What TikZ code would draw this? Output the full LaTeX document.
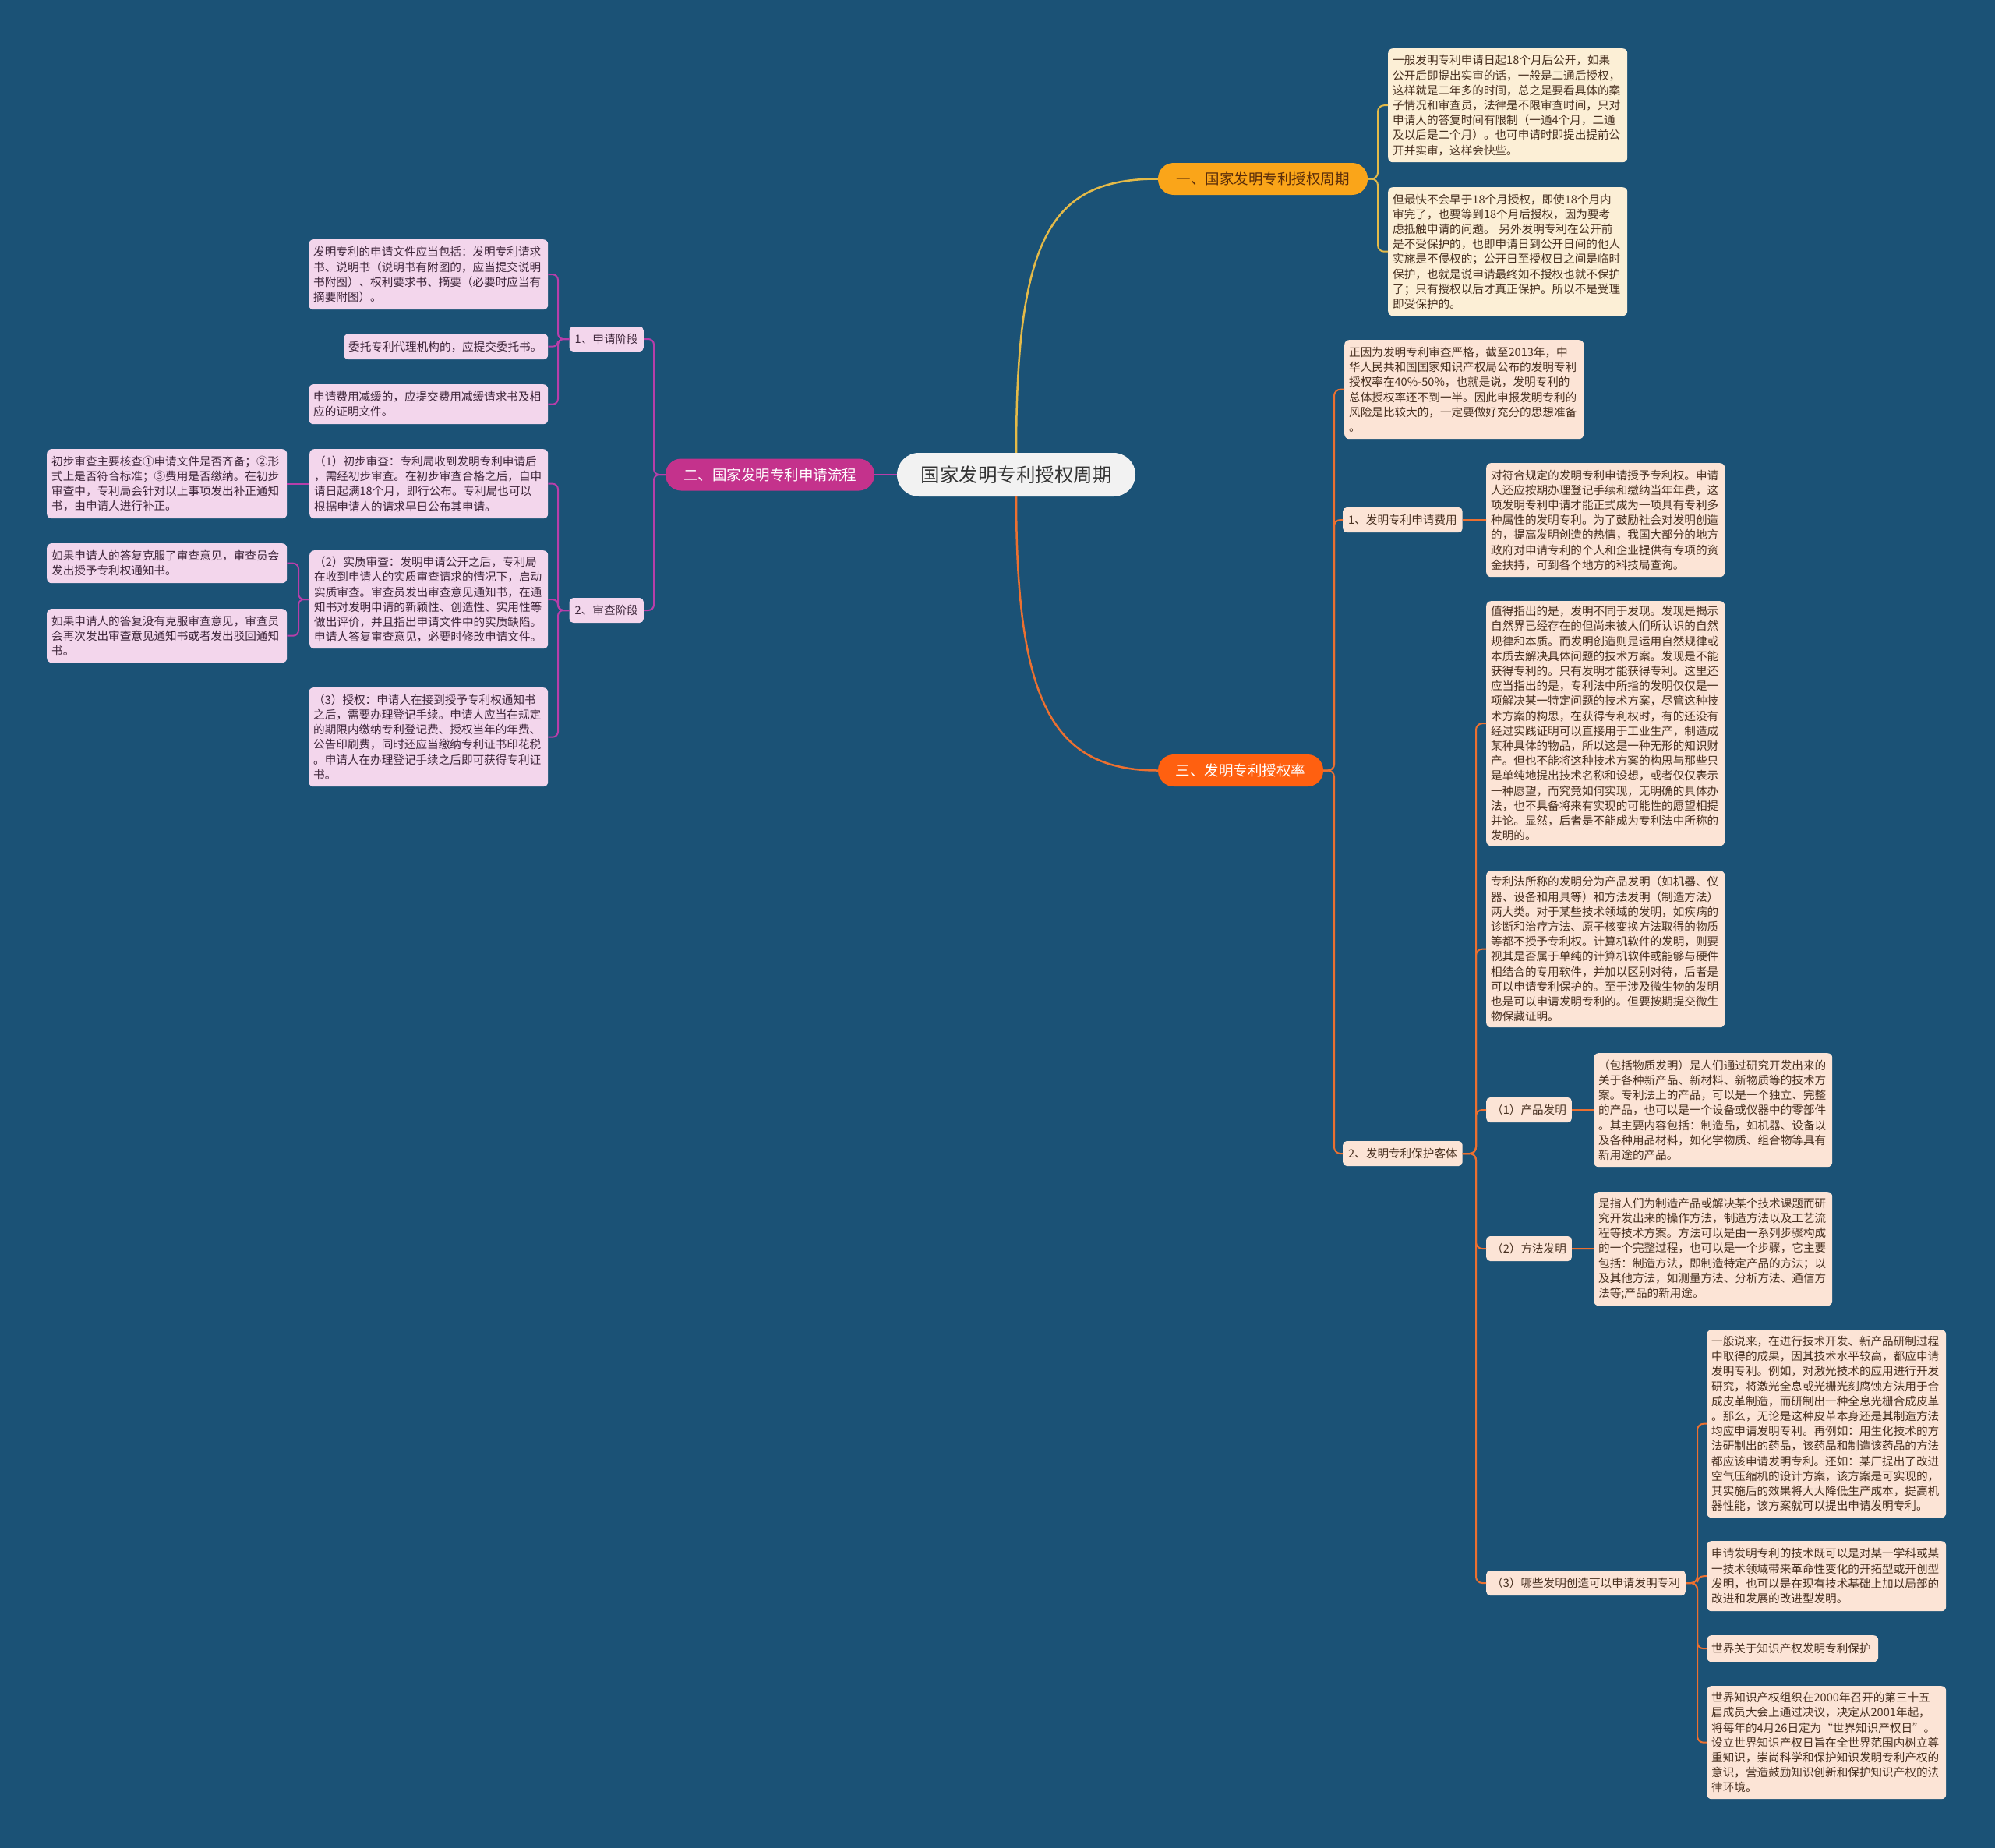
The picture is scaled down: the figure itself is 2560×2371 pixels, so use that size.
\documentclass[tikz,border=0pt]{standalone}
\usepackage{fontspec}
\setmainfont{Noto Sans CJK SC}
\definecolor{bg}{RGB}{27,82,118}
\definecolor{ycream}{RGB}{252,239,214}
\definecolor{opeach}{RGB}{252,228,214}
\definecolor{ppink}{RGB}{243,214,236}
\definecolor{btext}{RGB}{72,48,32}
\definecolor{ptext}{RGB}{62,38,58}
\definecolor{yfill}{RGB}{250,165,25}
\definecolor{ytx}{RGB}{90,45,10}
\definecolor{ofill}{RGB}{255,96,16}
\definecolor{pfill}{RGB}{196,50,140}
\definecolor{yline}{RGB}{228,186,72}
\definecolor{oline}{RGB}{236,112,48}
\definecolor{pline}{RGB}{184,62,170}
\definecolor{rootfill}{RGB}{242,242,242}
\newcommand\boxfont{\fontsize{14.6pt}{19.2pt}\selectfont}
\newcommand\pbx[7]{%
  \pgfmathsetmacro\pbxw{#5-#3-12}%
  \pgfmathsetmacro\pbxh{#6-#4}%
  \node[#1, text width=\pbxw pt, minimum height=\pbxh pt] (#2) at (#3,#4) {#7};}
\begin{document}
\begin{tikzpicture}[x=1pt,y=-1pt,
  boxbase/.style={anchor=north west, inner xsep=6pt, inner ysep=0pt, rounded corners=6pt, align=left, font=\boxfont},
  yb/.style={boxbase, fill=ycream, text=btext},
  ob/.style={boxbase, fill=opeach, text=btext},
  pb/.style={boxbase, fill=ppink, text=ptext},
  lab/.style={inner xsep=7pt, inner ysep=0pt, minimum height=32pt, rounded corners=5pt, font=\boxfont},
  olab/.style={lab, fill=opeach, text=btext, anchor=west},
  plab/.style={lab, fill=ppink, text=ptext, anchor=east},
  brn/.style={rounded corners=20pt, minimum height=41pt, inner sep=0pt, font=\fontsize{18.5pt}{22pt}\selectfont},
  rootn/.style={fill=rootfill, text=black!80, rounded corners=28pt, minimum width=306pt, minimum height=56pt, inner sep=0pt, font=\fontsize{24.5pt}{28pt}\selectfont},
  ye/.style={draw=yline, line width=2pt, rounded corners=8pt},
  oe/.style={draw=oline, line width=2pt, rounded corners=8pt},
  pe/.style={draw=pline, line width=2pt, rounded corners=7pt},
]
\fill[bg] (0,0) rectangle (2560,2371);

% root and main branches
\node[rootn] (root) at (1304,609) {国家发明专利授权周期};
\node[brn, fill=yfill, text=ytx, minimum width=269pt] (b1) at (1620.5,229.5) {一、国家发明专利授权周期};
\node[brn, fill=ofill, text=white, minimum width=212pt] (b3) at (1592,988.5) {三、发明专利授权率};
\node[brn, fill=pfill, text=white, minimum width=268pt] (b2) at (988,609) {二、国家发明专利申请流程};

% branch one boxes
\pbx{yb}{A1}{1781}{62}{2088}{208}{一般发明专利申请日起18个月后公开，如果\\公开后即提出实审的话，一般是二通后授权，\\这样就是二年多的时间，总之是要看具体的案\\子情况和审查员，法律是不限审查时间，只对\\申请人的答复时间有限制（一通4个月，二通\\及以后是二个月）。也可申请时即提出提前公\\开并实审，这样会快些。}
\pbx{yb}{A2}{1781}{240}{2088}{405}{但最快不会早于18个月授权，即使18个月内\\审完了，也要等到18个月后授权，因为要考\\虑抵触申请的问题。~另外发明专利在公开前\\是不受保护的，也即申请日到公开日间的他人\\实施是不侵权的；公开日至授权日之间是临时\\保护，也就是说申请最终如不授权也就不保护\\了；只有授权以后才真正保护。所以不是受理\\即受保护的。}

% branch three
\pbx{ob}{C0}{1725}{436}{2032}{563}{正因为发明专利审查严格，截至2013年，中\\华人民共和国国家知识产权局公布的发明专利\\授权率在40\%-50\%，也就是说，发明专利的\\总体授权率还不到一半。因此申报发明专利的\\风险是比较大的，一定要做好充分的思想准备\\。}
\node[olab] (lab11) at (1723,667) {1、发明专利申请费用};
\node[olab] (lab12) at (1723,1480) {2、发明专利保护客体};
\pbx{ob}{C1}{1907}{594}{2213}{740}{对符合规定的发明专利申请授予专利权。申请\\人还应按期办理登记手续和缴纳当年年费，这\\项发明专利申请才能正式成为一项具有专利多\\种属性的发明专利。为了鼓励社会对发明创造\\的，提高发明创造的热情，我国大部分的地方\\政府对申请专利的个人和企业提供有专项的资\\金扶持，可到各个地方的科技局查询。}
\pbx{ob}{C2}{1907}{771}{2213}{1085}{值得指出的是，发明不同于发现。发现是揭示\\自然界已经存在的但尚未被人们所认识的自然\\规律和本质。而发明创造则是运用自然规律或\\本质去解决具体问题的技术方案。发现是不能\\获得专利的。只有发明才能获得专利。这里还\\应当指出的是，专利法中所指的发明仅仅是一\\项解决某一特定问题的技术方案，尽管这种技\\术方案的构思，在获得专利权时，有的还没有\\经过实践证明可以直接用于工业生产，制造成\\某种具体的物品，所以这是一种无形的知识财\\产。但也不能将这种技术方案的构思与那些只\\是单纯地提出技术名称和设想，或者仅仅表示\\一种愿望，而究竟如何实现，无明确的具体办\\法，也不具备将来有实现的可能性的愿望相提\\并论。显然，后者是不能成为专利法中所称的\\发明的。}
\pbx{ob}{C3}{1907}{1117}{2213}{1318}{专利法所称的发明分为产品发明（如机器、仪\\器、设备和用具等）和方法发明（制造方法）\\两大类。对于某些技术领域的发明，如疾病的\\诊断和治疗方法、原子核变换方法取得的物质\\等都不授予专利权。计算机软件的发明，则要\\视其是否属于单纯的计算机软件或能够与硬件\\相结合的专用软件，并加以区别对待，后者是\\可以申请专利保护的。至于涉及微生物的发明\\也是可以申请发明专利的。但要按期提交微生\\物保藏证明。}
\node[olab] (lab21) at (1907,1424) {（1）产品发明};
\node[olab] (lab22) at (1907,1602) {（2）方法发明};
\node[olab] (lab23) at (1907,2031) {（3）哪些发明创造可以申请发明专利};
\pbx{ob}{C4}{2045}{1351}{2351}{1497}{（包括物质发明）是人们通过研究开发出来的\\关于各种新产品、新材料、新物质等的技术方\\案。专利法上的产品，可以是一个独立、完整\\的产品，也可以是一个设备或仪器中的零部件\\。其主要内容包括：制造品，如机器、设备以\\及各种用品材料，如化学物质、组合物等具有\\新用途的产品。}
\pbx{ob}{C5}{2045}{1529}{2351}{1675}{是指人们为制造产品或解决某个技术课题而研\\究开发出来的操作方法，制造方法以及工艺流\\程等技术方案。方法可以是由一系列步骤构成\\的一个完整过程，也可以是一个步骤，它主要\\包括：制造方法，即制造特定产品的方法；以\\及其他方法，如测量方法、分析方法、通信方\\法等;产品的新用途。}
\pbx{ob}{C6}{2190}{1706}{2497}{1947}{一般说来，在进行技术开发、新产品研制过程\\中取得的成果，因其技术水平较高，都应申请\\发明专利。例如，对激光技术的应用进行开发\\研究，将激光全息或光栅光刻腐蚀方法用于合\\成皮革制造，而研制出一种全息光栅合成皮革\\。那么，无论是这种皮革本身还是其制造方法\\均应申请发明专利。再例如：用生化技术的方\\法研制出的药品，该药品和制造该药品的方法\\都应该申请发明专利。还如：某厂提出了改进\\空气压缩机的设计方案，该方案是可实现的，\\其实施后的效果将大大降低生产成本，提高机\\器性能，该方案就可以提出申请发明专利。}
\pbx{ob}{C7}{2190}{1977}{2497}{2067}{申请发明专利的技术既可以是对某一学科或某\\一技术领域带来革命性变化的开拓型或开创型\\发明，也可以是在现有技术基础上加以局部的\\改进和发展的改进型发明。}
\pbx{ob}{C8}{2190}{2098}{2410}{2132}{世界关于知识产权发明专利保护}
\pbx{ob}{C9}{2190}{2163}{2497}{2308}{世界知识产权组织在2000年召开的第三十五\\届成员大会上通过决议，决定从2001年起，\\将每年的4月26日定为“世界知识产权日”。\\设立世界知识产权日旨在全世界范围内树立尊\\重知识，崇尚科学和保护知识发明专利产权的\\意识，营造鼓励知识创新和保护知识产权的法\\律环境。}

% branch two
\node[plab] (L1) at (826,435) {1、申请阶段};
\node[plab] (L2) at (826,783) {2、审查阶段};
\pbx{pb}{D1}{396}{307}{703}{397}{发明专利的申请文件应当包括：发明专利请求\\书、说明书（说明书有附图的，应当提交说明\\书附图）、权利要求书、摘要（必要时应当有\\摘要附图）。}
\pbx{pb}{D2}{441}{428}{703}{461}{委托专利代理机构的，应提交委托书。}
\pbx{pb}{D3}{396}{493}{703}{544}{申请费用减缓的，应提交费用减缓请求书及相\\应的证明文件。}
\pbx{pb}{E1}{397}{576}{703}{665}{（1）初步审查：专利局收到发明专利申请后\\，需经初步审查。在初步审查合格之后，自申\\请日起满18个月，即行公布。专利局也可以\\根据申请人的请求早日公布其申请。}
\pbx{pb}{E2}{397}{706}{703}{832}{（2）实质审查：发明申请公开之后，专利局\\在收到申请人的实质审查请求的情况下，启动\\实质审查。审查员发出审查意见通知书，在通\\知书对发明申请的新颖性、创造性、实用性等\\做出评价，并且指出申请文件中的实质缺陷。\\申请人答复审查意见，必要时修改申请文件。}
\pbx{pb}{E3}{396}{882}{703}{1009}{（3）授权：申请人在接到授予专利权通知书\\之后，需要办理登记手续。申请人应当在规定\\的期限内缴纳专利登记费、授权当年的年费、\\公告印刷费，同时还应当缴纳专利证书印花税\\。申请人在办理登记手续之后即可获得专利证\\书。}
\pbx{pb}{F1}{60}{576}{368}{665}{初步审查主要核查①申请文件是否齐备；②形\\式上是否符合标准；③费用是否缴纳。在初步\\审查中，专利局会针对以上事项发出补正通知\\书，由申请人进行补正。}
\pbx{pb}{F2}{60}{697}{368}{748}{如果申请人的答复克服了审查意见，审查员会\\发出授予专利权通知书。}
\pbx{pb}{F3}{60}{781}{368}{850}{如果申请人的答复没有克服审查意见，审查员\\会再次发出审查意见通知书或者发出驳回通知\\书。}

% main connectors
\draw[yline, line width=2.5pt] (root.north) .. controls (1304,300) and (1350,229.5) .. (b1.west);
\draw[oline, line width=2.5pt] (root.south) .. controls (1304,900) and (1350,988.5) .. (b3.west);
\draw[pline, line width=2.5pt] (root.west) -- (b2.east);

% branch one connectors
\draw[ye] (b1.east) -- (1768,229.5) |- (A1.west);
\draw[ye] (b1.east) -- (1768,229.5) |- (A2.west);

% branch three connectors
\draw[oe] (b3.east) -- (1712,988.5) |- (C0.west);
\draw[oe] (b3.east) -- (1712,988.5) |- (lab11.west);
\draw[oe] (b3.east) -- (1712,988.5) |- (lab12.west);
\draw[oe] (lab11.east) -- (C1.west);
\draw[oe] (lab12.east) -- (1894,1480) |- (C2.west);
\draw[oe] (lab12.east) -- (1894,1480) |- (C3.west);
\draw[oe] (lab12.east) -- (1894,1480) |- (lab21.west);
\draw[oe] (lab12.east) -- (1894,1480) |- (lab22.west);
\draw[oe] (lab12.east) -- (1894,1480) |- (lab23.west);
\draw[oe] (lab21.east) -- (C4.west);
\draw[oe] (lab22.east) -- (C5.west);
\draw[oe] (lab23.east) -- (2178,2031) |- (C6.west);
\draw[oe] (lab23.east) -- (2178,2031) |- (C7.west);
\draw[oe] (lab23.east) -- (2178,2031) |- (C8.west);
\draw[oe] (lab23.east) -- (2178,2031) |- (C9.west);

% branch two connectors
\draw[pe] (b2.west) -- (839,609) |- (L1.east);
\draw[pe] (b2.west) -- (839,609) |- (L2.east);
\draw[pe] (L1.west) -- (716,435) |- (D1.east);
\draw[pe] (L1.west) -- (716,435) |- (D2.east);
\draw[pe] (L1.west) -- (716,435) |- (D3.east);
\draw[pe] (L2.west) -- (716,783) |- (E1.east);
\draw[pe] (L2.west) -- (716,783) |- (E2.east);
\draw[pe] (L2.west) -- (716,783) |- (E3.east);
\draw[pe] (E1.west) -- (F1.east);
\draw[pe] (E2.west) -- (383,769) |- (F2.east);
\draw[pe] (E2.west) -- (383,769) |- (F3.east);
\end{tikzpicture}
\end{document}
